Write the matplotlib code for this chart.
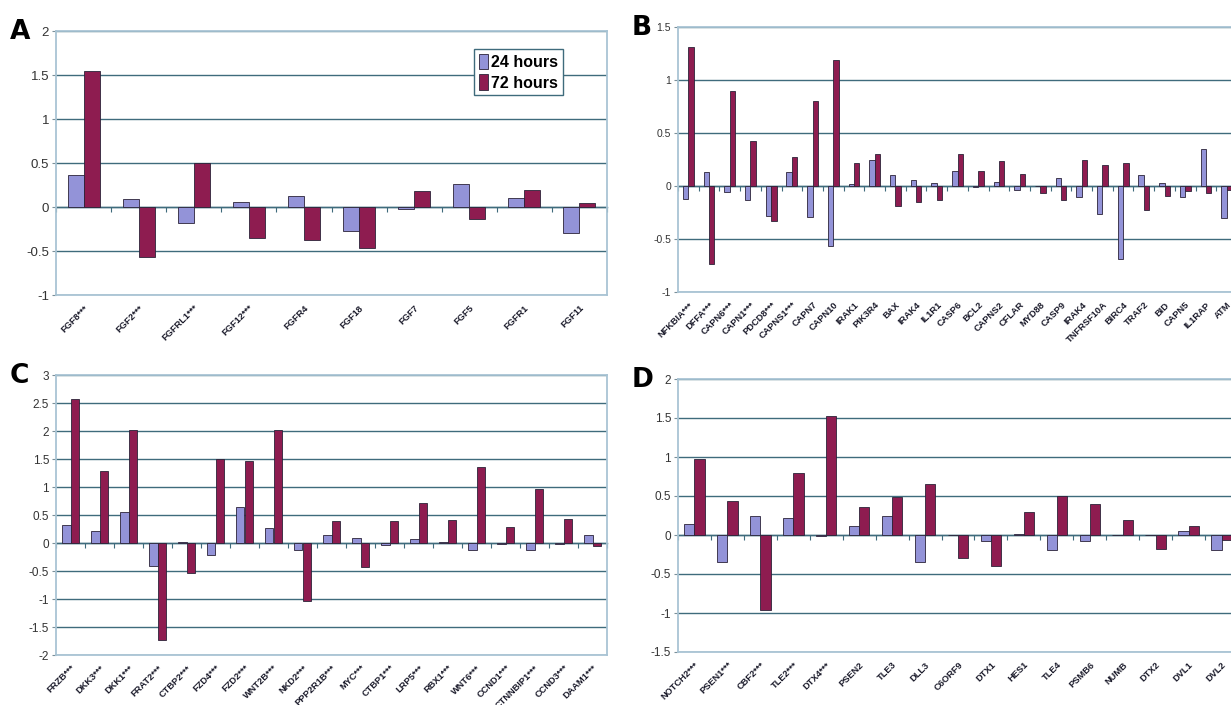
import numpy as np
import matplotlib
matplotlib.use('Agg')
import matplotlib.pyplot as plt
from matplotlib.patches import Patch

plt.rcParams['font.family'] = ['Liberation Sans', 'DejaVu Sans']
plt.rcParams['axes.unicode_minus'] = False

# ---- data (log ratio vs control) ----
genes_a = ['FGF8***', 'FGF2***', 'FGFRL1***', 'FGF12***', 'FGFR4', 'FGF18',
           'FGF7', 'FGF5', 'FGFR1', 'FGF11']
a_24h = [0.36, 0.09, -0.18, 0.06, 0.12, -0.27, -0.02, 0.26, 0.10, -0.29]
a_72h = [1.55, -0.57, 0.50, -0.35, -0.38, -0.47, 0.18, -0.14, 0.19, 0.05]

genes_b = ['NFKBIA***', 'DFFA***', 'CAPN6***', 'CAPN1***', 'PDCD8***', 'CAPNS1***',
           'CAPN7', 'CAPN10', 'IRAK1', 'PIK3R4', 'BAX', 'IRAK4', 'IL1R1', 'CASP6',
           'BCL2', 'CAPNS2', 'CFLAR', 'MYD88', 'CASP9', 'IRAK4', 'TNFRSF10A',
           'BIRC4', 'TRAF2', 'BID', 'CAPN5', 'IL1RAP', 'ATM']
b_24h = [-0.12, 0.13, -0.06, -0.135, -0.285, 0.13, -0.29, -0.57, 0.02, 0.25,
         0.10, 0.06, 0.03, 0.14, -0.01, 0.04, -0.04, 0.0, 0.08, -0.10,
         -0.26, -0.69, 0.10, 0.03, -0.10, 0.35, -0.30]
b_72h = [1.31, -0.74, 0.90, 0.42, -0.33, 0.27, 0.80, 1.19, 0.22, 0.30,
         -0.19, -0.15, -0.13, 0.30, 0.14, 0.24, 0.11, -0.065, -0.13, 0.25,
         0.20, 0.22, -0.23, -0.09, -0.05, -0.07, -0.04]

genes_c = ['FRZB***', 'DKK3***', 'DKK1***', 'FRAT2***', 'CTBP2***', 'FZD4***',
           'FZD2***', 'WNT2B***', 'NKD2***', 'PPP2R1B***', 'MYC***', 'CTBP1***',
           'LRP5***', 'RBX1***', 'WNT6***', 'CCND1***', 'CTNNBIP1***', 'CCND3***',
           'DAAM1***']
c_24h = [0.32, 0.21, 0.55, -0.41, 0.02, -0.21, 0.64, 0.27, -0.12, 0.14,
         0.09, -0.03, 0.08, 0.01, -0.12, -0.02, -0.12, -0.02, 0.14]
c_72h = [2.57, 1.28, 2.02, -1.73, -0.54, 1.50, 1.47, 2.02, -1.04, 0.39,
         -0.42, 0.40, 0.71, 0.41, 1.35, 0.29, 0.97, 0.42, -0.06]

genes_d = ['NOTCH2***', 'PSEN1***', 'CBF2***', 'TLE2***', 'DTX4***', 'PSEN2',
           'TLE3', 'DLL3', 'C6ORF9', 'DTX1', 'HES1', 'TLE4', 'PSMB6', 'NUMB',
           'DTX2', 'DVL1', 'DVL2']
d_24h = [0.14, -0.34, 0.24, 0.22, -0.015, 0.11, 0.24, -0.34, 0.005, -0.08,
         0.015, -0.19, -0.08, 0.0, 0.0, 0.05, -0.19]
d_72h = [0.97, 0.43, -0.96, 0.80, 1.53, 0.36, 0.49, 0.65, -0.30, -0.40,
         0.29, 0.50, 0.40, 0.19, -0.18, 0.12, -0.07]

series_names = ['24 hours', '72 hours']

C24 = '#9393d8'
C72 = '#8e1c50'
EDGE = '#2b2338'
GRID = '#3f6b7c'
FRAME = '#a9c4d4'

W, H = 1231, 705
fig = plt.figure(figsize=(W / 100, H / 100), dpi=100)


def rect(l, t, r, b):
    return [l / W, 1 - b / H, (r - l) / W, (b - t) / H]


def panel(box, letter, genes, v24, v72, ylim, width, ysize, legend=False):
    ax = fig.add_axes(rect(*box))
    n = len(genes)
    x = np.arange(n)
    ax.bar(x - width / 2, v24, width, color=C24, edgecolor=EDGE, linewidth=0.6, zorder=3)
    ax.bar(x + width / 2, v72, width, color=C72, edgecolor=EDGE, linewidth=0.6, zorder=3)

    ax.set_xlim(-0.5, n - 0.5)
    ax.set_ylim(*ylim)
    ax.set_yticks(np.arange(ylim[0], ylim[1] + 0.01, 0.5))
    ax.yaxis.set_major_formatter(matplotlib.ticker.FuncFormatter(lambda v, p: f'{v:g}'))
    ax.yaxis.grid(True, color=GRID, linewidth=1.0)
    ax.set_axisbelow(True)
    for s in ax.spines.values():
        s.set_color(FRAME)
        s.set_linewidth(1.3)
    ax.tick_params(axis='y', length=3, color='#7a8f99', labelsize=ysize,
                   labelcolor='#333333', pad=2)

    ax.set_xticks(x)
    ax.set_xticklabels(genes, rotation=45, ha='right', rotation_mode='anchor',
                       fontsize=6.7, fontweight='bold', color='#1a1a2a')
    ax.tick_params(axis='x', length=0, pad=6)

    # category axis crossing at zero, with ticks between the groups
    frac = (0 - ylim[0]) / (ylim[1] - ylim[0])
    sec = ax.secondary_xaxis(frac)
    sec.set_xticks(np.arange(n + 1) - 0.5)
    sec.tick_params(axis='x', length=3.5, width=0.8, color=GRID, labelbottom=False)
    sec.spines['bottom'].set_color(GRID)
    sec.spines['bottom'].set_linewidth(1.0)

    fig.text((box[0] - 46) / W, 1 - (box[1] - 12) / H, letter, fontsize=19,
             fontweight='bold', va='top', ha='left', family='DejaVu Sans')

    if legend:
        handles = [Patch(facecolor=C24, edgecolor=EDGE, linewidth=0.6),
                   Patch(facecolor=C72, edgecolor=EDGE, linewidth=0.6)]
        leg = ax.legend(handles, series_names, loc='upper right',
                        bbox_to_anchor=(0.935, 0.963), fancybox=False,
                        framealpha=1, edgecolor=GRID,
                        prop={'weight': 'bold', 'size': 11.5},
                        handlelength=0.6, handleheight=1.1, handletextpad=0.2,
                        borderpad=0.3, labelspacing=0.3)
        leg.get_frame().set_linewidth(1.0)
    return ax


panel((56, 31, 607, 295), 'A', genes_a, a_24h, a_72h, (-1, 2), 0.29, 9.5, legend=True)
panel((678, 27, 1237, 292), 'B', genes_b, b_24h, b_72h, (-1, 1.5), 0.26, 7.5)
panel((56, 375, 607, 655), 'C', genes_c, c_24h, c_72h, (-2, 3), 0.3, 8.5)
panel((678, 379, 1238, 652), 'D', genes_d, d_24h, d_72h, (-1.5, 2), 0.31, 8.5)

fig.savefig('out.png', dpi=100)
